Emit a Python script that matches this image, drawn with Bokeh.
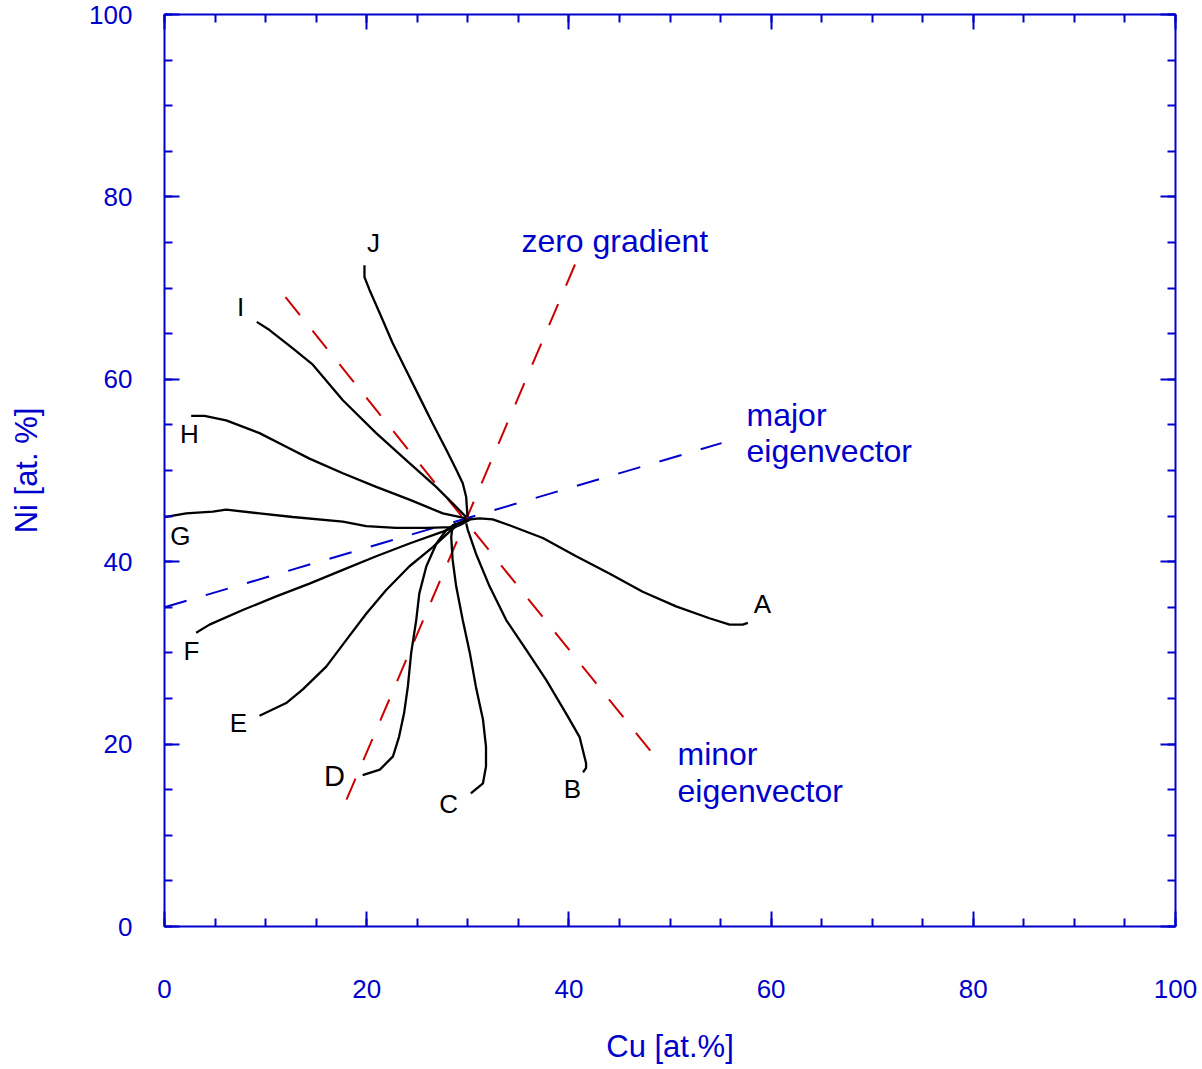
from bokeh.plotting import figure
from bokeh.models import LinearAxis, FixedTicker, Range1d, ColumnDataSource
from bokeh.core.properties import value
from bokeh.embed import file_html
from bokeh.resources import INLINE

# ---------------- data ----------------
major_ticks = [0, 20, 40, 60, 80, 100]
minor_ticks = list(range(0, 101, 5))

cu_A = [29.84, 31.16, 32.47, 34.12, 37.42, 40.72, 44.0, 47.3, 50.6, 53.9, 55.9, 57.2, 57.7]
ni_A = [44.6, 44.75, 44.65, 44.0, 42.6, 40.6, 38.7, 36.7, 35.1, 33.8, 33.1, 33.1, 33.3]

cu_B = [41.4, 41.7, 41.7, 41.05, 39.7, 37.75, 35.8, 33.8, 32.15, 30.8, 30.0, 29.84]
ni_B = [16.9, 17.4, 17.9, 20.8, 23.4, 27.05, 30.3, 33.6, 37.3, 40.9, 43.5, 44.2]

cu_C = [30.3, 31.5, 31.8, 31.8, 31.5, 30.8, 30.2, 29.5, 28.85, 28.5, 28.36, 28.5, 29.5]
ni_C = [14.6, 15.7, 17.55, 19.7, 22.7, 26.3, 30.0, 33.6, 37.3, 40.2, 42.7, 44.0, 44.4]

cu_D = [19.6, 21.3, 22.6, 23.2, 23.7, 24.07, 24.4, 24.9, 25.2, 25.9, 26.9, 27.9, 28.85]
ni_D = [16.6, 17.2, 18.65, 20.8, 23.4, 26.3, 30.0, 33.6, 36.5, 39.5, 42.0, 43.5, 44.2]

cu_E = [9.4, 12.04, 13.68, 16.0, 17.97, 19.95, 21.93, 24.23, 26.54, 28.2, 29.2]
ni_E = [23.1, 24.5, 26.0, 28.5, 31.4, 34.3, 36.9, 39.5, 41.6, 43.3, 44.2]

cu_F = [3.13, 4.45, 7.74, 11.05, 14.34, 17.64, 20.94, 24.23, 27.53, 29.2, 30.2]
ni_F = [32.2, 33.1, 34.7, 36.2, 37.6, 39.1, 40.6, 42.0, 43.3, 44.0, 44.6]

cu_G = [0.0, 2.14, 4.78, 6.1, 9.4, 12.69, 17.64, 19.95, 22.9, 25.9, 28.5, 29.84]
ni_G = [44.9, 45.3, 45.5, 45.7, 45.3, 44.9, 44.4, 43.9, 43.7, 43.7, 43.8, 44.6]

cu_H = [2.64, 3.96, 6.1, 9.4, 12.04, 14.34, 17.64, 20.94, 24.23, 27.53, 29.84]
ni_H = [56.0, 56.0, 55.5, 54.1, 52.6, 51.3, 49.7, 48.2, 46.8, 45.3, 44.75]

cu_I = [9.13, 10.39, 12.69, 14.67, 17.64, 20.94, 24.23, 26.87, 28.5, 29.84]
ni_I = [66.3, 65.4, 63.4, 61.6, 57.7, 54.1, 50.8, 48.2, 46.4, 44.9]

cu_J = [19.78, 19.78, 20.28, 21.27, 22.55, 23.9, 25.2, 26.5, 27.86, 28.85, 29.5, 29.84, 29.97]
ni_J = [72.5, 71.2, 69.8, 67.3, 64.0, 61.0, 58.1, 55.2, 52.3, 50.1, 48.6, 47.1, 44.9]

curve_names = ["A", "B", "C", "D", "E", "F", "G", "H", "I", "J"]
label_cu = [59.15, 40.36, 28.1, 16.8, 7.3, 2.67, 1.58, 2.47, 7.52, 20.67]
label_ni = [35.4, 15.1, 13.4, 16.5, 22.3, 30.2, 42.8, 54.0, 67.9, 75.0]

major_eig_cu = [0.0, 55.1]
major_eig_ni = [35.0, 53.0]
zero_grad_cu = [18.0, 40.65]
zero_grad_ni = [13.9, 72.7]
minor_eig_cu = [11.97, 48.76]
minor_eig_ni = [69.0, 18.3]

annot_text = ["zero gradient", "major", "eigenvector", "minor", "eigenvector"]
annot_cu = [35.3, 57.57, 57.57, 50.74, 50.74]
annot_ni = [75.2, 56.1, 52.1, 18.9, 14.9]

# ---------------- styling ----------------
BLUE = "#0000cc"
RED = "#cc0000"
FONT = "Liberation Sans"

p = figure(width=1200, height=1066, x_range=Range1d(0, 100), y_range=Range1d(0, 100),
           output_backend="svg", toolbar_location=None,
           x_axis_location=None, y_axis_location=None,
           min_border_left=164, min_border_right=25, min_border_top=14, min_border_bottom=139)
p.outline_line_color = None
for g in p.grid:
    g.visible = False


def style_axis(ax, labels=True):
    ax.ticker = FixedTicker(ticks=major_ticks, minor_ticks=minor_ticks)
    ax.axis_line_color = BLUE
    ax.axis_line_width = 2
    ax.major_tick_line_color = BLUE
    ax.major_tick_line_width = 2
    ax.minor_tick_line_color = BLUE
    ax.minor_tick_line_width = 2
    ax.major_tick_in = 15
    ax.major_tick_out = 0
    ax.minor_tick_in = 8
    ax.minor_tick_out = 0
    ax.major_label_text_color = BLUE
    ax.major_label_text_font = FONT
    ax.major_label_text_font_size = "26px"
    ax.axis_label_text_color = BLUE
    ax.axis_label_text_font = FONT
    ax.axis_label_text_font_size = "31px"
    ax.axis_label_text_font_style = "normal"
    if not labels:
        ax.major_label_overrides = {t: "" for t in major_ticks}
        ax.major_label_standoff = 0


xb = LinearAxis(axis_label="Cu [at.%]")
style_axis(xb)
xb.major_label_standoff = 53
xb.axis_label_standoff = 28
p.add_layout(xb, "below")

yl = LinearAxis(axis_label="Ni [at. %]")
style_axis(yl)
yl.major_label_standoff = 32
yl.axis_label_standoff = 42
p.add_layout(yl, "left")

xt = LinearAxis()
style_axis(xt, labels=False)
p.add_layout(xt, "above")

yr = LinearAxis()
style_axis(yr, labels=False)
p.add_layout(yr, "right")

# dashed reference lines
p.line(major_eig_cu, major_eig_ni, line_color=BLUE, line_width=2, line_dash="23 20")
p.line(zero_grad_cu, zero_grad_ni, line_color=RED, line_width=2, line_dash="23 20")
p.line(minor_eig_cu, minor_eig_ni, line_color=RED, line_width=2, line_dash="23 20")

# diffusion paths
curves = [(cu_A, ni_A), (cu_B, ni_B), (cu_C, ni_C), (cu_D, ni_D), (cu_E, ni_E),
          (cu_F, ni_F), (cu_G, ni_G), (cu_H, ni_H), (cu_I, ni_I), (cu_J, ni_J)]
for cu, ni in curves:
    p.line(cu, ni, line_color="black", line_width=2.3)

sizes = ["29px" if n == "D" else "26px" for n in curve_names]
lab_src = ColumnDataSource(dict(x=label_cu, y=label_ni, t=curve_names, s=sizes))
p.text(x="x", y="y", text="t", source=lab_src, text_color="black",
       text_font=value(FONT), text_font_size="s",
       text_align="center", text_baseline="middle")

ann_src = ColumnDataSource(dict(x=annot_cu, y=annot_ni, t=annot_text))
p.text(x="x", y="y", text="t", source=ann_src, text_color=BLUE,
       text_font=value(FONT), text_font_size="32px",
       text_align="left", text_baseline="middle")

open("out.html", "w").write(file_html(p, INLINE))
